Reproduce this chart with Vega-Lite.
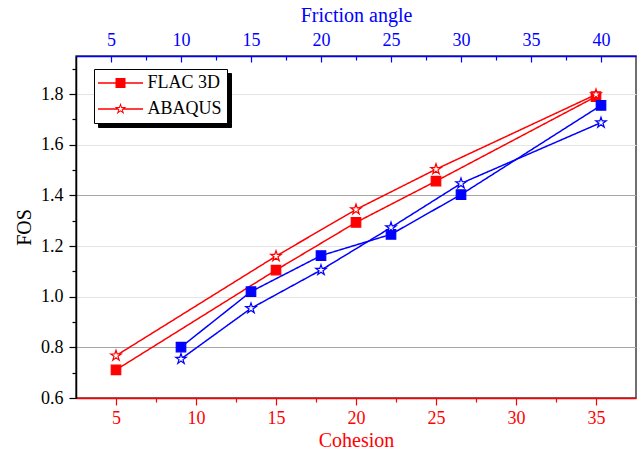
{
  "$schema": "https://vega.github.io/schema/vega-lite/v6.json",
  "width": 560,
  "height": 342,
  "autosize": "none",
  "padding": {"left": 76, "top": 56, "right": 4, "bottom": 54},
  "background": "white",
  "config": {
    "view": {"stroke": "#404040", "strokeWidth": 1.5},
    "font": "Liberation Serif",
    "axis": {
      "labelFont": "Liberation Serif",
      "labelFontSize": 18,
      "titleFont": "Liberation Serif",
      "titleFontSize": 20,
      "titleFontWeight": "normal",
      "grid": false,
      "domainWidth": 1.5,
      "tickWidth": 1.2
    }
  },
  "datasets": {
    "cohesion": [
      {"Method": "FLAC 3D", "Cohesion": 5, "FOS": 0.711},
      {"Method": "FLAC 3D", "Cohesion": 15, "FOS": 1.105},
      {"Method": "FLAC 3D", "Cohesion": 20, "FOS": 1.293},
      {"Method": "FLAC 3D", "Cohesion": 25, "FOS": 1.456},
      {"Method": "FLAC 3D", "Cohesion": 35, "FOS": 1.79},
      {"Method": "ABAQUS", "Cohesion": 5, "FOS": 0.767},
      {"Method": "ABAQUS", "Cohesion": 15, "FOS": 1.16},
      {"Method": "ABAQUS", "Cohesion": 20, "FOS": 1.344},
      {"Method": "ABAQUS", "Cohesion": 25, "FOS": 1.503},
      {"Method": "ABAQUS", "Cohesion": 35, "FOS": 1.798}
    ],
    "friction": [
      {"Method": "FLAC 3D", "Friction": 10, "FOS": 0.801},
      {"Method": "FLAC 3D", "Friction": 15, "FOS": 1.02},
      {"Method": "FLAC 3D", "Friction": 20, "FOS": 1.162},
      {"Method": "FLAC 3D", "Friction": 25, "FOS": 1.246},
      {"Method": "FLAC 3D", "Friction": 30, "FOS": 1.403},
      {"Method": "FLAC 3D", "Friction": 40, "FOS": 1.755},
      {"Method": "ABAQUS", "Friction": 10, "FOS": 0.754},
      {"Method": "ABAQUS", "Friction": 15, "FOS": 0.954},
      {"Method": "ABAQUS", "Friction": 20, "FOS": 1.105},
      {"Method": "ABAQUS", "Friction": 25, "FOS": 1.273},
      {"Method": "ABAQUS", "Friction": 30, "FOS": 1.447},
      {"Method": "ABAQUS", "Friction": 40, "FOS": 1.687}
    ]
  },
  "encoding": {
    "y": {
      "field": "FOS", "type": "quantitative",
      "scale": {"domain": [0.6, 1.95], "nice": false, "zero": false},
      "axis": {
        "orient": "left",
        "values": [0.6, 0.7, 0.8, 0.9, 1.0, 1.1, 1.2, 1.3, 1.4, 1.5, 1.6, 1.7, 1.8, 1.9],
        "labelExpr": "abs(round(datum.value*10)) % 2 == 0 ? format(datum.value, '.1f') : ''",
        "tickSize": {"condition": {"test": "abs(round(datum.value*10)) % 2 == 0", "value": 7}, "value": 4},
        "tickColor": "black", "domainColor": "black", "labelColor": "black",
        "title": "FOS", "titleColor": "black",
        "labelPadding": 6, "titlePadding": 6,
        "grid": true,
        "gridColor": {
          "condition": [
            {"test": "abs(datum.value-0.8)<0.01 || abs(datum.value-1.4)<0.01", "value": "#a6a6a6"},
            {"test": "abs(round(datum.value*10)) % 2 == 1 || datum.value < 0.65", "value": "rgba(0,0,0,0)"}
          ],
          "value": "#e4e4e4"
        }
      }
    }
  },
  "resolve": {"scale": {"x": "independent", "shape": "independent"}, "axis": {"x": "independent"}},
  "layer": [
    {
      "data": {"name": "cohesion"},
      "encoding": {
        "x": {
          "field": "Cohesion", "type": "quantitative",
          "scale": {"domain": [2.5, 37.5], "nice": false, "zero": false},
          "axis": {
            "orient": "bottom",
            "values": [5, 7.5, 10, 12.5, 15, 17.5, 20, 22.5, 25, 27.5, 30, 32.5, 35],
            "labelExpr": "datum.value % 5 == 0 ? format(datum.value, 'd') : ''",
            "tickSize": {"condition": {"test": "datum.value % 5 == 0", "value": 7}, "value": 4},
            "tickColor": "red", "domainColor": "red", "labelColor": "red",
            "title": "Cohesion", "titleColor": "red",
            "labelPadding": 4, "titlePadding": 3
          }
        }
      },
      "layer": [
        {
          "mark": {"type": "line", "color": "red", "strokeWidth": 1.5},
          "encoding": {
            "detail": {"field": "Method"},
            "strokeDash": {"field": "Method", "type": "nominal",
              "scale": {"domain": ["ABAQUS", "FLAC 3D"], "range": [[1, 0], [1, 0]]},
              "legend": {"title": null, "orient": "none", "legendX": 22, "legendY": 17, "direction": "vertical",
                "strokeColor": "black", "fillColor": "black", "padding": 5, "symbolOffset": 104.5, "labelOffset": 0,
                "rowPadding": 8, "symbolSize": 324, "symbolType": "square", "symbolFillColor": "black", "symbolStrokeColor": "black", "symbolStrokeWidth": 0,
                "labelExpr": "''", "labelFontSize": 18, "zindex": 0}
            }
          }
        },
        {
          "mark": {"type": "point", "filled": true, "stroke": "red", "strokeWidth": 1.2, "opacity": 1},
          "encoding": {
            "shape": {"field": "Method", "type": "nominal", "legend": null,
              "scale": {"domain": ["FLAC 3D", "ABAQUS"], "range": ["square", "M0,-1L0.2245,-0.309L0.9511,-0.309L0.3633,0.118L0.5878,0.809L0,0.382L-0.5878,0.809L-0.3633,0.118L-0.9511,-0.309L-0.2245,-0.309Z"]}},
            "fill": {"condition": {"test": "datum.Method === 'FLAC 3D'", "value": "red"}, "value": "white"},
            "size": {"condition": {"test": "datum.Method === 'FLAC 3D'", "value": 90}, "value": 120}
          }
        }
      ]
    },
    {
      "data": {"name": "friction"},
      "encoding": {
        "x": {
          "field": "Friction", "type": "quantitative",
          "scale": {"domain": [2.5, 42.5], "nice": false, "zero": false},
          "axis": {
            "orient": "top",
            "values": [5, 7.5, 10, 12.5, 15, 17.5, 20, 22.5, 25, 27.5, 30, 32.5, 35, 37.5, 40],
            "labelExpr": "datum.value % 5 == 0 ? format(datum.value, 'd') : ''",
            "tickSize": {"condition": {"test": "datum.value % 5 == 0", "value": -6}, "value": -4},
            "tickColor": "blue", "domainColor": "blue", "labelColor": "blue",
            "title": "Friction angle", "titleColor": "blue",
            "labelPadding": 13, "titlePadding": 6
          }
        }
      },
      "layer": [
        {
          "mark": {"type": "line", "color": "blue", "strokeWidth": 1.5},
          "encoding": {
            "detail": {"field": "Method"},
            "strokeDash": {"field": "Method", "type": "nominal",
              "scale": {"domain": ["ABAQUS", "FLAC 3D"], "range": [[1, 0], [1, 0]]},
              "legend": {"title": null, "orient": "none", "legendX": 22, "legendY": 17, "direction": "vertical",
                "strokeColor": "black", "fillColor": "black", "padding": 5, "symbolOffset": 104.5, "labelOffset": 0,
                "rowPadding": 8, "symbolSize": 324, "symbolType": "square", "symbolFillColor": "black", "symbolStrokeColor": "black", "symbolStrokeWidth": 0,
                "labelExpr": "''", "labelFontSize": 18, "zindex": 0}
            }
          }
        },
        {
          "mark": {"type": "point", "filled": true, "stroke": "blue", "strokeWidth": 1.2, "opacity": 1},
          "encoding": {
            "shape": {"field": "Method", "type": "nominal", "legend": null,
              "scale": {"domain": ["FLAC 3D", "ABAQUS"], "range": ["square", "M0,-1L0.2245,-0.309L0.9511,-0.309L0.3633,0.118L0.5878,0.809L0,0.382L-0.5878,0.809L-0.3633,0.118L-0.9511,-0.309L-0.2245,-0.309Z"]}},
            "fill": {"condition": {"test": "datum.Method === 'FLAC 3D'", "value": "blue"}, "value": "white"},
            "size": {"condition": {"test": "datum.Method === 'FLAC 3D'", "value": 90}, "value": 120}
          }
        }
      ]
    },
    {
      "data": {"name": "cohesion"},
      "mark": {"type": "point", "filled": true, "fill": "red", "strokeWidth": 0, "opacity": 0},
      "encoding": {
        "shape": {"field": "Method", "type": "nominal",
          "scale": {"domain": ["FLAC 3D", "ABAQUS"], "range": [
            "M-4.5,-0.13H4.5V0.13H-4.5ZM-1,-1H1V1H-1Z",
            "M-4.5,-0.13H-0.4V0.13H-4.5ZM0.4,-0.13H4.5V0.13H0.4ZM0,-1.25L0.281,-0.386L1.189,-0.386L0.454,0.148L0.735,1.011L0,0.478L-0.735,1.011L-0.454,0.148L-1.189,-0.386L-0.281,-0.386ZM0,-0.62L-0.139,-0.192L-0.59,-0.192L-0.225,0.073L-0.364,0.502L0,0.237L0.364,0.502L0.225,0.073L0.59,-0.192L0.139,-0.192Z"
          ]},
          "legend": {"title": null, "orient": "none", "legendX": 18, "legendY": 13, "direction": "vertical",
            "strokeColor": "black", "fillColor": "white", "padding": 5, "symbolOffset": 12.5, "labelOffset": 18,
            "rowPadding": 8, "symbolSize": 100, "symbolFillColor": "red", "symbolStrokeColor": "transparent", "symbolStrokeWidth": 0, "symbolOpacity": 1,
            "labelFont": "Liberation Serif", "labelFontSize": 18, "labelColor": "black", "zindex": 1}
        }
      }
    }
  ]
}
